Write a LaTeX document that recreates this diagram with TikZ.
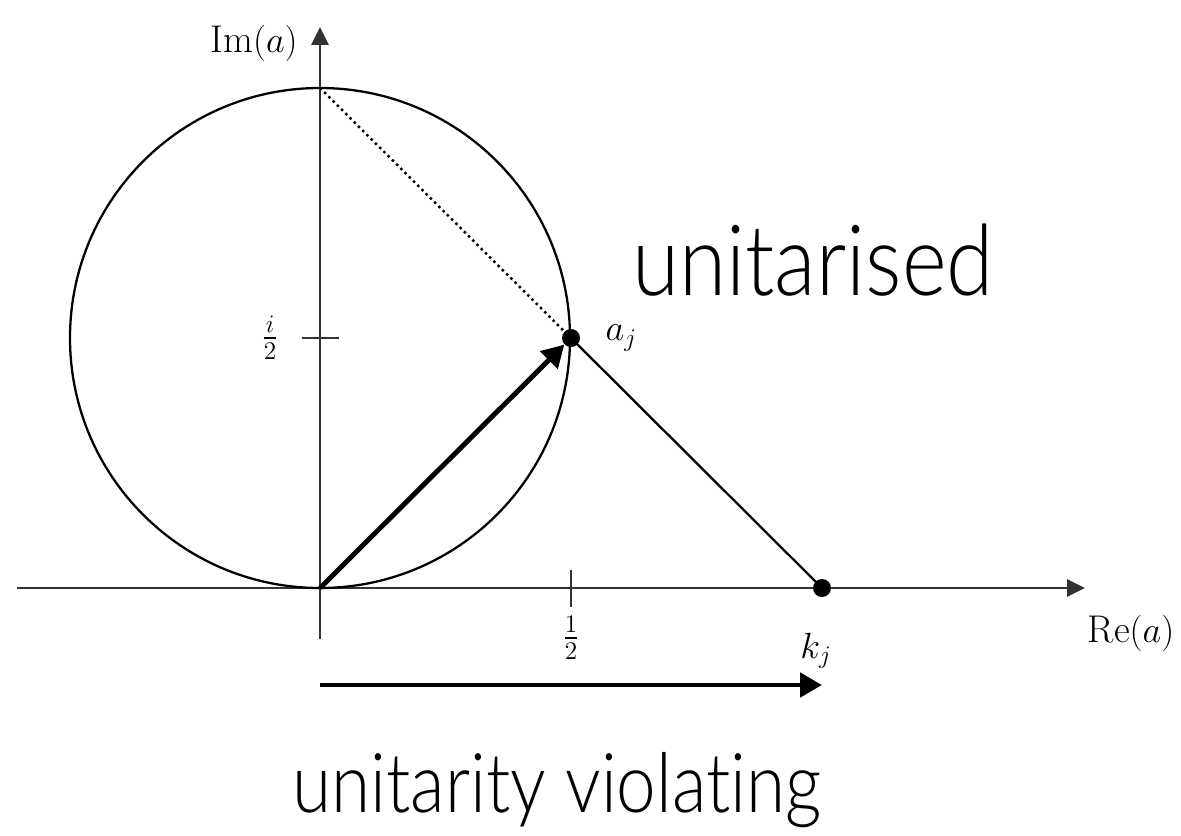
\documentclass[tikz,border=0pt]{standalone}
\usepackage{amsmath,amssymb}
\usepackage{fontspec}
\usepackage{tikz}
\usetikzlibrary{arrows.meta,positioning}
\newfontfamily\lightsans{Lato}[UprightFont=* Light,Ligatures=NoCommon]
\tikzset{
  ax/.style={-{Triangle[length=3.6mm,width=3.4mm]},line width=1.6pt,black!80},
  tk/.style={line width=1.6pt,black!80},
  ci/.style={line width=1.3pt},
  dt/.style={circle,fill=black,minimum size=0.36cm,inner sep=0pt},
  ar/.style={-{Triangle[length=4.4mm,width=4.8mm]},line width=2.8pt},
  lb/.style={font=\fontsize{22}{26}\selectfont,inner sep=0pt},
  big/.style={font=\lightsans\fontsize{56}{64}\selectfont,inner sep=0pt,anchor=base,transform shape}
}
\begin{document}
\begin{tikzpicture}
\useasboundingbox (-6.4,-4.94) rectangle (17.22,11.76);
% axes
\coordinate (xl) at (-6.06,0);
\coordinate (xr) at (15.3,0);
\coordinate (yb) at (0,-1.02);
\coordinate (yt) at (0,11.22);
\coordinate (O) at (0,0);
\coordinate (top) at (0,10);
\draw[ax] (xl) -- (xr);
\draw[ax] (yb) -- (yt);
% circle
\draw[ci] (0,5) circle (5);
% ticks
\draw[tk] (-0.36,5) -- (0.38,5);
\draw[tk] (5.02,0.36) -- (5.02,-0.38);
\node[lb] (half) at (5.02,-1.0) {$\frac{1}{2}$};
\node[lb] (ihalf) at (-1.0,5) {$\frac{i}{2}$};
% points
\node[dt] (aj) at (5.02,5) {};
\node[dt] (kj) at (10.04,0) {};
\node[lb,right=0.5cm of aj] (ajl) {$a_j$};
\node[lb,below=0.7cm of kj,xshift=-0.12cm] (kjl) {$k_j$};
\node[lb] (re) at (16.22,-0.9) {$\mathrm{Re}(a)$};
\node[lb,anchor=east] (im) at (-0.44,10.9) {$\mathrm{Im}(a)$};
\draw[dotted,line width=1.4pt] (top) -- (aj.center);
\draw[ci] (aj.center) -- (kj.center);
\draw[ar] (O) -- (aj);
% bottom arrow
\coordinate (vs) at (0,-1.94);
\coordinate (ve) at (10.04,-1.94);
\draw[ar] (vs) -- (ve);
\node[big,xscale=0.87] (uni) at (9.86,5.86) {unitarised};
\node[big,font=\lightsans\fontsize{47}{54}\selectfont,xscale=0.86] (viol) at (4.74,-4.48) {unitarity violating};
\end{tikzpicture}
\end{document}
